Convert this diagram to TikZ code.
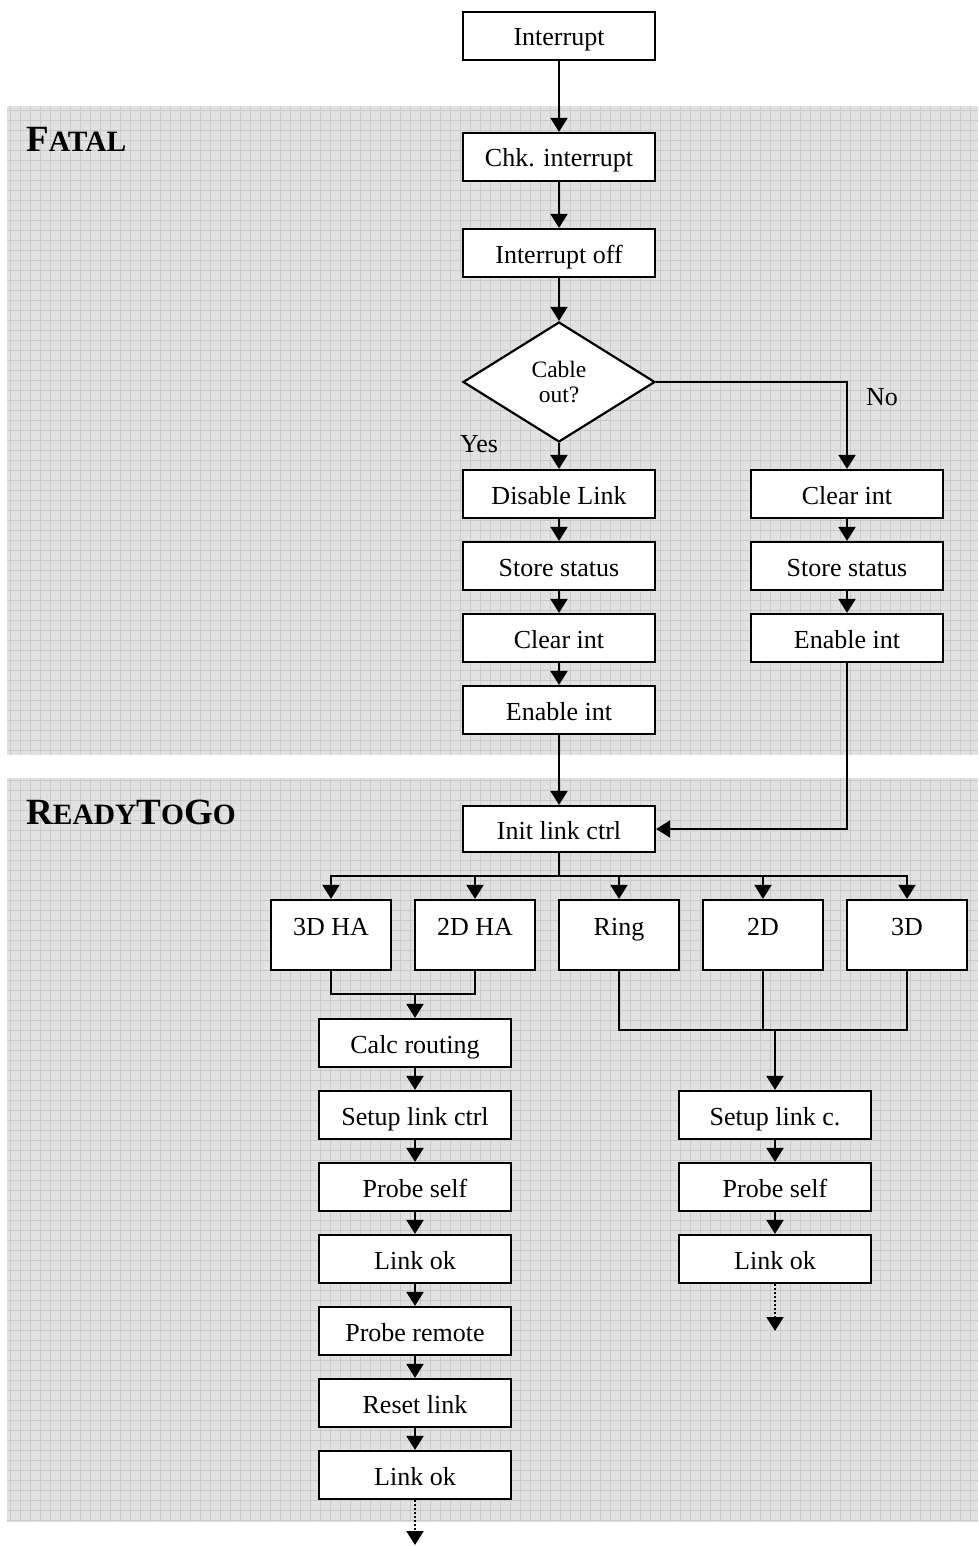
\documentclass[tikz,border=0pt]{standalone}
\usepackage{fontspec}
\setmainfont{Liberation Serif}
\usetikzlibrary{arrows.meta,shapes.geometric,calc}
\definecolor{bgfill}{HTML}{E1E1E1}
\definecolor{bgline}{HTML}{C9C9C9}
\tikzset{
  box/.style={draw=black,line width=2.2pt,fill=white,inner sep=0pt,minimum width=192pt,minimum height=48pt,text height=20pt,text depth=0pt,font=\fontsize{26}{28}\selectfont},
  rowbox/.style={draw=black,line width=2.2pt,fill=white,inner sep=0pt,minimum width=120pt,text height=35pt,text depth=35pt,font=\fontsize{26}{28}\selectfont},
  dec/.style={draw=black,line width=2.2pt,fill=white,diamond,inner sep=0pt,minimum width=192pt,minimum height=120pt,align=center,font=\fontsize{23.5}{25}\selectfont},
  conn/.style={line width=2pt},
  arr/.style={line width=2pt,-{Triangle[width=17pt,length=14pt]}},
  dotarr/.style={line width=2pt,dash pattern=on 2pt off 2pt,-{Triangle[width=17pt,length=14pt]}},
  lab/.style={font=\fontsize{26}{28}\selectfont,inner sep=0pt},
  big/.style={font=\fontsize{37}{40}\selectfont\bfseries},
}
\newcommand{\smcap}[1]{{\fontsize{29.5}{32}\selectfont #1}}
\begin{document}
\begin{tikzpicture}[x=1pt,y=-1pt]
\useasboundingbox (0,0) rectangle (978,1546);
% backgrounds
\fill[bgfill] (7,106) rectangle (978,755);
\fill[bgfill] (7,778) rectangle (978,1522);
\foreach \xx in {10,20,...,970} {
  \draw[bgline,line width=0.7pt] (\xx,106) -- (\xx,755);
  \draw[bgline,line width=0.7pt] (\xx,778) -- (\xx,1522);
}
\foreach \yy in {110,120,...,750} \draw[bgline,line width=0.7pt] (7,\yy) -- (978,\yy);
\foreach \yy in {780,790,...,1520} \draw[bgline,line width=0.7pt] (7,\yy) -- (978,\yy);
% section labels
\node[big,anchor=base west,inner sep=0pt] (fatal) at (26,152) {F\smcap{ATAL}};
\node[big,anchor=base west,inner sep=0pt] (ready) at (26,824) {R\smcap{EADY}T\smcap{O}G\smcap{O}};
% main column
\node[box] (int) at (559,36) {Interrupt};
\node[box] (chk) at (559,157) {Chk. interrupt};
\node[box] (off) at (559,253) {Interrupt off};
\node[dec] (dia) at (559,382) {Cable\\out?};
\node[lab] (yes) at (479,444) {Yes};
\node[lab] (no) at (882,397) {No};
\node[box] (dis) at (559,494) {Disable Link};
\node[box] (st1) at (559,566) {Store status};
\node[box] (cl1) at (559,638) {Clear int};
\node[box] (en1) at (559,710) {Enable int};
\node[box] (cl2) at (847,494) {Clear int};
\node[box] (st2) at (847,566) {Store status};
\node[box] (en2) at (847,638) {Enable int};
\node[box,minimum height=46pt] (init) at (559,829) {Init link ctrl};
% row
\node[rowbox] (ha3) at (331,935) {3D HA};
\node[rowbox] (ha2) at (475,935) {2D HA};
\node[rowbox] (ring) at (619,935) {Ring};
\node[rowbox] (d2) at (763,935) {2D};
\node[rowbox] (d3) at (907,935) {3D};
% left column
\node[box] (calc) at (415,1043) {Calc routing};
\node[box] (su1) at (415,1115) {Setup link ctrl};
\node[box] (pr1) at (415,1187) {Probe self};
\node[box] (lo1) at (415,1259) {Link ok};
\node[box] (prr) at (415,1331) {Probe remote};
\node[box] (rst) at (415,1403) {Reset link};
\node[box] (lo2) at (415,1475) {Link ok};
% right column
\node[box] (su2) at (775,1115) {Setup link c.};
\node[box] (pr2) at (775,1187) {Probe self};
\node[box] (lo3) at (775,1259) {Link ok};
% connectors
\draw[arr] (int) -- (chk);
\draw[arr] (chk) -- (off);
\draw[arr] (off) -- (dia);
\draw[arr] (dia.south) -- (dis);
\draw[arr] (dia.east) -| (cl2.north);
\draw[arr] (dis) -- (st1);
\draw[arr] (st1) -- (cl1);
\draw[arr] (cl1) -- (en1);
\draw[arr] (en1) -- (init);
\draw[arr] (cl2) -- (st2);
\draw[arr] (st2) -- (en2);
\draw[arr] (en2.south) |- (init.east);
\coordinate (br) at (559,876);
\draw[conn] (init.south) -- (br);
\foreach \n in {ha3,ha2,ring,d2,d3} \draw[arr] (br) -| (\n.north);
\coordinate (j1) at (415,994);
\draw[conn] (ha3.south) |- (j1);
\draw[conn] (ha2.south) |- (j1);
\draw[arr] (j1) -- (calc.north);
\coordinate (j2) at (775,1030);
\draw[conn] (ring.south) |- (j2);
\draw[conn] (d3.south) |- (j2);
\draw[conn] (d2.south) -- (d2.south |- j2);
\draw[arr] (j2) -- (su2.north);
\draw[arr] (calc) -- (su1);
\draw[arr] (su1) -- (pr1);
\draw[arr] (pr1) -- (lo1);
\draw[arr] (lo1) -- (prr);
\draw[arr] (prr) -- (rst);
\draw[arr] (rst) -- (lo2);
\draw[arr] (su2) -- (pr2);
\draw[arr] (pr2) -- (lo3);
\coordinate (e1) at (415,1545);
\coordinate (e2) at (775,1331);
\draw[dotarr] (lo2.south) -- (e1);
\draw[dotarr] (lo3.south) -- (e2);
\end{tikzpicture}
\end{document}
